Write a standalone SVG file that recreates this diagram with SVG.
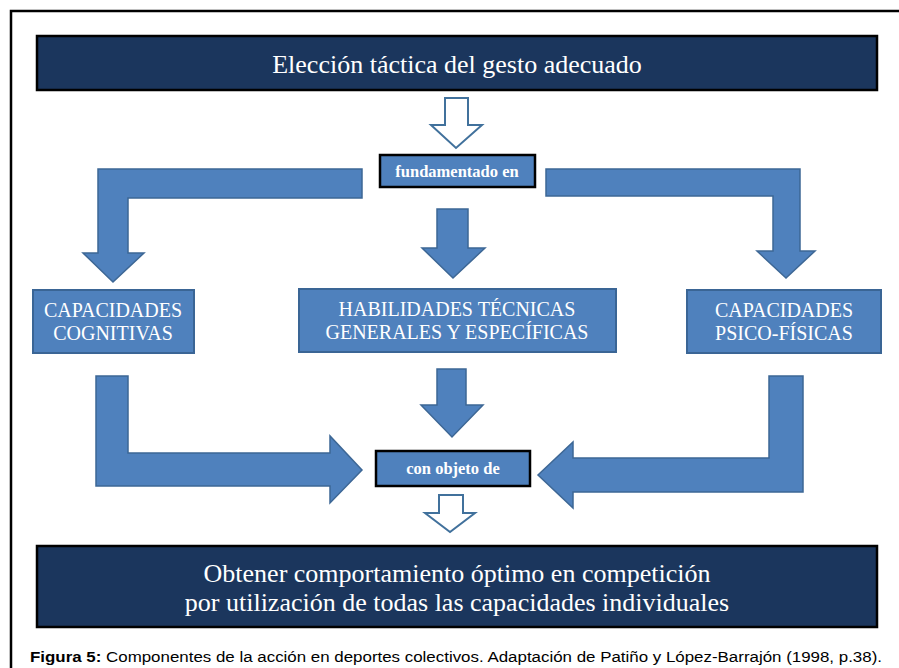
<svg xmlns="http://www.w3.org/2000/svg" width="899" height="668" viewBox="0 0 899 668">
<style>
.dark{fill:#1b365d;stroke:#000;stroke-width:2.5}
.box{fill:#4f81bd;stroke:#3a6595;stroke-width:2}
.lbl{fill:#4f81bd;stroke:#000;stroke-width:2.5}
.arr{fill:#4f81bd;stroke:#3d6795;stroke-width:1.5;stroke-linejoin:miter}
.hol{fill:#fff;stroke:#41719c;stroke-width:2}
.t{font-family:"Liberation Serif","Times New Roman",serif;fill:#fff;text-anchor:middle}
.b{font-weight:bold;font-size:16.5px}
.cap{font-family:"Liberation Sans",Arial,sans-serif;font-size:15.5px;fill:#000}
</style>
<rect x="0" y="0" width="899" height="668" fill="#fff"/>
<path d="M11,668 V11 H899" fill="none" stroke="#000" stroke-width="2.5"/>

<g id="connectors">
  <path class="hol" d="M445,98 H468 V125 H482 L456,148 L431,125 H445 Z"/>
  <path class="arr" d="M362,169 V198 H128 V253 H144 L113,282 L83,253 H98 V169 Z"/>
  <path class="arr" d="M437,209 H468 V248 H485 L453,278 L422,248 H437 Z"/>
  <path class="arr" d="M546,169 H800 V251 H815 L786,278 L757,251 H773 V196 H546 Z"/>
  <path class="arr" d="M437,369 H466 V405 H483 L452,437 L421,405 H437 Z"/>
  <path class="arr" d="M96,376 H128 V453 H330 V436 L362,470 L330,503 V486 H96 Z"/>
  <path class="arr" d="M803,376 V492 H573 V508 L538,475 L573,442 V458 H769 V376 Z"/>
  <path class="hol" d="M439,495 H463 V513 H475 L450,532 L425,513 H439 Z"/>
</g>

<g id="top">
  <rect class="dark" x="37" y="36" width="840" height="54"/>
  <text class="t" x="457" y="73" font-size="26">Elección táctica del gesto adecuado</text>
</g>
<g id="fundamentado">
  <rect class="lbl" x="380" y="155" width="155" height="32"/>
  <text class="t b" x="457" y="177">fundamentado en</text>
</g>
<g id="cognitivas">
  <rect class="box" x="33" y="290" width="161" height="63"/>
  <text class="t" x="113" y="317" font-size="20">CAPACIDADES</text>
  <text class="t" x="113" y="340" font-size="20">COGNITIVAS</text>
</g>
<g id="habilidades">
  <rect class="box" x="299" y="289" width="317" height="63"/>
  <text class="t" x="457" y="316" font-size="20">HABILIDADES TÉCNICAS</text>
  <text class="t" x="457" y="339" font-size="20">GENERALES Y ESPECÍFICAS</text>
</g>
<g id="psicofisicas">
  <rect class="box" x="687" y="290" width="194" height="63"/>
  <text class="t" x="784" y="317" font-size="20">CAPACIDADES</text>
  <text class="t" x="784" y="340" font-size="20">PSICO-FÍSICAS</text>
</g>
<g id="objeto">
  <rect class="lbl" x="376" y="451" width="154" height="35"/>
  <text class="t b" x="453" y="474">con objeto de</text>
</g>
<g id="bottom">
  <rect class="dark" x="37" y="546" width="840" height="81"/>
  <text class="t" x="457" y="582" font-size="26">Obtener comportamiento óptimo en competición</text>
  <text class="t" x="457" y="611" font-size="26">por utilización de todas las capacidades individuales</text>
</g>
<text class="cap" x="30" y="662" textLength="852" lengthAdjust="spacingAndGlyphs"><tspan font-weight="bold">Figura 5:</tspan> Componentes de la acción en deportes colectivos. Adaptación de Patiño y López-Barrajón (1998, p.38).</text>
</svg>
